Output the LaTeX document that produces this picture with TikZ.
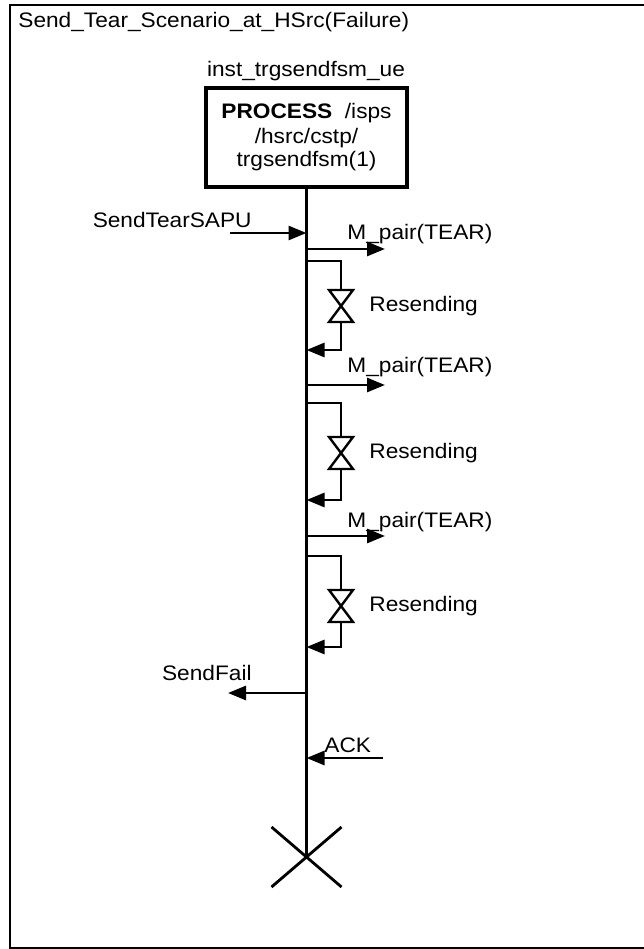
\documentclass[tikz,border=0pt]{standalone}
\usepackage{fontspec}
\setmainfont{Liberation Sans}[FakeStretch=1.08]
\usetikzlibrary{calc,arrows.meta}

\begin{document}
\begin{tikzpicture}[x=1pt, y=-1pt, line width=2.8pt,
  every node/.style={font=\fontsize{21}{25}\selectfont, inner sep=0pt},
  msg/.style={line width=2.8pt, -{Triangle[length=18pt,width=14pt]}},
  valve/.style={line width=2.4pt, fill=white}]
  \useasboundingbox (0,0) rectangle (644,949);

  % frame
  \coordinate (F1) at (646,5);
  \coordinate (F2) at (10,5);
  \coordinate (F3) at (10,948);
  \coordinate (F4) at (646,948);
  \draw (F1)--(F2)--(F3)--(F4);
  \node[anchor=base west] (title) at (17,28) {Send\_Tear\_Scenario\_at\_HSrc(Failure)};

  % instance
  \node[anchor=base] (inst) at (306,77) {inst\_trgsendfsm\_ue};
  \node[draw, line width=3.2pt, minimum width=201pt, minimum height=99pt, align=center]
    (proc) at (306.5,137.5) {\textbf{PROCESS}\ \ /isps\\/hsrc/cstp/\\[-2pt]trgsendfsm(1)};
  \coordinate (stop) at (306.5,857);
  \draw[line width=3.4pt] (proc.south)--(stop);
  \draw (stop) ++(-35,-30) -- ++(70,60);
  \draw (stop) ++(35,-30) -- ++(-70,60);

  % SendTearSAPU
  \coordinate (S0) at (230,233);
  \coordinate (S1) at (306.5,233);
  \draw[msg] (S0)--(S1);
  \node[anchor=base east] (sendtear) at (253,228) {SendTearSAPU};

  % M_pair(TEAR) 1
  \coordinate (M1a) at (306.5,249);
  \coordinate (M1b) at (385,249);
  \draw[msg] (M1a)--(M1b);
  \node[anchor=base west] (mpair1) at (346,240) {M\_pair(TEAR)};
  % Resending 1
  \coordinate (R1a) at (306.5,261);
  \coordinate (V1) at (341,306);
  \coordinate (R1b) at (306.5,350);
  \draw (R1a) -| ($(V1)+(0,-16)$);
  \draw[msg] ($(V1)+(0,16)$) |- (R1b);
  \draw[valve] (V1) ++(-12,-16) -- ++(24,0) -- ++(-12,16) -- cycle;
  \draw[valve] (V1) ++(-12,16) -- ++(24,0) -- ++(-12,-16) -- cycle;
  \node[anchor=west] (resend1) at (368,306) {Resending};

  % M_pair(TEAR) 2
  \coordinate (M2a) at (306.5,385);
  \coordinate (M2b) at (385,385);
  \draw[msg] (M2a)--(M2b);
  \node[anchor=base west] (mpair2) at (346,372) {M\_pair(TEAR)};
  % Resending 2
  \coordinate (R2a) at (306.5,403);
  \coordinate (V2) at (341,453);
  \coordinate (R2b) at (306.5,500);
  \draw (R2a) -| ($(V2)+(0,-16)$);
  \draw[msg] ($(V2)+(0,16)$) |- (R2b);
  \draw[valve] (V2) ++(-12,-16) -- ++(24,0) -- ++(-12,16) -- cycle;
  \draw[valve] (V2) ++(-12,16) -- ++(24,0) -- ++(-12,-16) -- cycle;
  \node[anchor=west] (resend2) at (368,453) {Resending};

  % M_pair(TEAR) 3
  \coordinate (M3a) at (306.5,536);
  \coordinate (M3b) at (385,536);
  \draw[msg] (M3a)--(M3b);
  \node[anchor=base west] (mpair3) at (346,527) {M\_pair(TEAR)};
  % Resending 3
  \coordinate (R3a) at (306.5,556);
  \coordinate (V3) at (341,606);
  \coordinate (R3b) at (306.5,647);
  \draw (R3a) -| ($(V3)+(0,-16)$);
  \draw[msg] ($(V3)+(0,16)$) |- (R3b);
  \draw[valve] (V3) ++(-12,-16) -- ++(24,0) -- ++(-12,16) -- cycle;
  \draw[valve] (V3) ++(-12,16) -- ++(24,0) -- ++(-12,-16) -- cycle;
  \node[anchor=west] (resend3) at (368,606) {Resending};

  % SendFail
  \coordinate (E0) at (306.5,693);
  \coordinate (E1) at (228,693);
  \draw[msg] (E0)--(E1);
  \node[anchor=base east] (sendfail) at (253,680) {SendFail};

  % ACK
  \coordinate (A0) at (383,758);
  \coordinate (A1) at (306.5,758);
  \draw[msg] (A0)--(A1);
  \node[anchor=base west] (ack) at (323,752) {ACK};
\end{tikzpicture}
\end{document}
